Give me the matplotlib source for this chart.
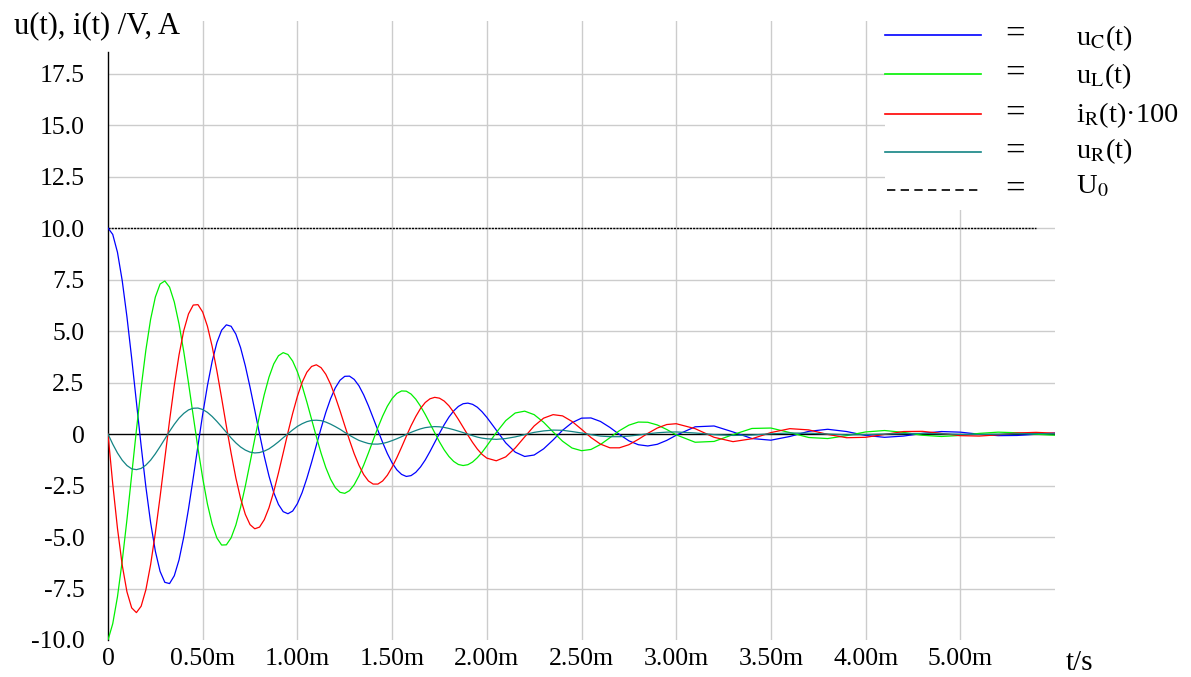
#!/usr/bin/env python3
"""Damped RLC oscillation: u_C, u_L, i_R*100, u_R over time."""
import matplotlib
matplotlib.use('Agg')
import matplotlib.pyplot as plt
from matplotlib.patches import Rectangle
from matplotlib.lines import Line2D

plt.rcParams['font.family'] = ['Liberation Serif', 'DejaVu Serif']
plt.rcParams['mathtext.fontset'] = 'stix'

# time in ms (denser sampling where the swing is large)
t_ms = [0.000, 0.025, 0.050, 0.075, 0.100, 0.125, 0.150, 0.175, 0.200,
        0.225, 0.250, 0.275, 0.300, 0.325, 0.350, 0.375, 0.400, 0.425,
        0.450, 0.475, 0.500, 0.525, 0.550, 0.575, 0.600, 0.625, 0.650,
        0.675, 0.700, 0.725, 0.750, 0.775, 0.800, 0.825, 0.850, 0.875,
        0.900, 0.925, 0.950, 0.975, 1.000, 1.025, 1.050, 1.075, 1.100,
        1.125, 1.150, 1.175, 1.200, 1.225, 1.250, 1.275, 1.300, 1.325,
        1.350, 1.375, 1.400, 1.425, 1.450, 1.475, 1.500, 1.525, 1.550,
        1.575, 1.600, 1.625, 1.650, 1.675, 1.700, 1.725, 1.750, 1.775,
        1.800, 1.825, 1.850, 1.875, 1.900, 1.925, 1.950, 1.975, 2.000,
        2.05, 2.10, 2.15, 2.20, 2.25, 2.30, 2.35, 2.40, 2.45, 2.50,
        2.55, 2.60, 2.65, 2.70, 2.75, 2.80, 2.85, 2.90, 2.95, 3.00,
        3.1, 3.2, 3.3, 3.4, 3.5, 3.6, 3.7, 3.8, 3.9, 4.0,
        4.1, 4.2, 4.3, 4.4, 4.5, 4.6, 4.7, 4.8, 4.9, 5.0]

u_C = [10.00, 9.69, 8.82, 7.45, 5.69, 3.68, 1.55, -0.58, -2.57,
       -4.30, -5.69, -6.67, -7.20, -7.26, -6.88, -6.11, -5.00, -3.64,
       -2.13, -0.57, 0.96, 2.35, 3.53, 4.44, 5.04, 5.30, 5.23,
       4.85, 4.19, 3.31, 2.27, 1.15, 0.01, -1.08, -2.04, -2.84,
       -3.42, -3.77, -3.87, -3.74, -3.38, -2.84, -2.15, -1.37, -0.54,
       0.28, 1.05, 1.71, 2.24, 2.61, 2.80, 2.81, 2.65, 2.34,
       1.90, 1.37, 0.78, 0.18, -0.41, -0.95, -1.40, -1.74, -1.96,
       -2.06, -2.02, -1.86, -1.60, -1.26, -0.85, -0.41, 0.03, 0.45,
       0.82, 1.12, 1.34, 1.47, 1.50, 1.44, 1.30, 1.08, 0.81,
       0.19, -0.43, -0.88, -1.09, -1.02, -0.72, -0.29, 0.18, 0.55, 0.77,
       0.78, 0.61, 0.32, -0.02, -0.33, -0.52, -0.58, -0.50, -0.31, -0.06,
       0.35, 0.39, 0.10, -0.22, -0.30, -0.12, 0.13, 0.23, 0.12, -0.07,
       -0.16, -0.10, 0.03, 0.12, 0.09, -0.01, -0.08, -0.07, -0.01, 0.05]

u_L = [-10.00, -9.21, -7.90, -6.17, -4.16, -1.99, 0.19, 2.25, 4.08,
       5.57, 6.65, 7.28, 7.43, 7.13, 6.41, 5.34, 4.00, 2.48,
       0.88, -0.69, -2.14, -3.40, -4.38, -5.05, -5.39, -5.38, -5.04,
       -4.42, -3.56, -2.53, -1.39, -0.23, 0.90, 1.91, 2.76, 3.40,
       3.80, 3.95, 3.86, 3.54, 3.02, 2.34, 1.55, 0.71, -0.13,
       -0.93, -1.63, -2.19, -2.60, -2.83, -2.88, -2.75, -2.46, -2.03,
       -1.51, -0.92, -0.30, 0.31, 0.87, 1.35, 1.72, 1.97, 2.09,
       2.08, 1.94, 1.69, 1.35, 0.95, 0.51, 0.06, -0.38, -0.77,
       -1.09, -1.33, -1.48, -1.53, -1.49, -1.36, -1.15, -0.89, -0.58,
       0.07, 0.65, 1.02, 1.11, 0.94, 0.57, 0.10, -0.35, -0.68, -0.81,
       -0.75, -0.51, -0.18, 0.16, 0.43, 0.58, 0.57, 0.44, 0.22, -0.04,
       -0.40, -0.36, -0.03, 0.27, 0.29, 0.07, -0.17, -0.22, -0.08, 0.10,
       0.17, 0.08, -0.06, -0.12, -0.07, 0.03, 0.09, 0.06, -0.01, -0.06]

i_R_x100 = [0.00, -2.42, -4.58, -6.36, -7.66, -8.44, -8.67, -8.36, -7.56,
            -6.34, -4.80, -3.05, -1.19, 0.65, 2.36, 3.84, 5.02, 5.83,
            6.26, 6.28, 5.92, 5.23, 4.25, 3.06, 1.74, 0.38, -0.93,
            -2.13, -3.13, -3.90, -4.40, -4.60, -4.52, -4.16, -3.58, -2.80,
            -1.89, -0.92, 0.07, 1.00, 1.83, 2.51, 3.00, 3.28, 3.36,
            3.22, 2.90, 2.42, 1.81, 1.13, 0.41, -0.30, -0.96, -1.52,
            -1.97, -2.28, -2.43, -2.43, -2.28, -2.00, -1.61, -1.15, -0.64,
            -0.11, 0.40, 0.85, 1.24, 1.53, 1.71, 1.78, 1.74, 1.60,
            1.37, 1.06, 0.71, 0.33, -0.05, -0.41, -0.73, -0.99, -1.17,
            -1.30, -1.11, -0.68, -0.14, 0.39, 0.77, 0.94, 0.88, 0.61, 0.23,
            -0.17, -0.49, -0.67, -0.67, -0.52, -0.26, 0.03, 0.29, 0.46, 0.50,
            0.26, -0.16, -0.37, -0.23, 0.07, 0.26, 0.20, -0.02, -0.18, -0.16,
            -0.02, 0.12, 0.13, 0.03, -0.08, -0.10, -0.04, 0.05, 0.08, 0.04]

u_R = [0.00, -0.49, -0.92, -1.27, -1.53, -1.69, -1.73, -1.67, -1.51,
       -1.27, -0.96, -0.61, -0.24, 0.13, 0.47, 0.77, 1.00, 1.17,
       1.25, 1.26, 1.19, 1.05, 0.85, 0.61, 0.35, 0.08, -0.19,
       -0.43, -0.63, -0.78, -0.88, -0.92, -0.90, -0.83, -0.72, -0.56,
       -0.38, -0.18, 0.01, 0.20, 0.37, 0.50, 0.60, 0.66, 0.67,
       0.65, 0.58, 0.48, 0.36, 0.23, 0.08, -0.06, -0.19, -0.31,
       -0.39, -0.46, -0.49, -0.49, -0.46, -0.40, -0.32, -0.23, -0.13,
       -0.02, 0.08, 0.17, 0.25, 0.31, 0.34, 0.36, 0.35, 0.32,
       0.27, 0.21, 0.14, 0.07, -0.01, -0.08, -0.15, -0.20, -0.23,
       -0.26, -0.22, -0.14, -0.03, 0.08, 0.15, 0.19, 0.18, 0.12, 0.05,
       -0.03, -0.10, -0.13, -0.13, -0.10, -0.05, 0.01, 0.06, 0.09, 0.10,
       0.05, -0.03, -0.07, -0.05, 0.01, 0.05, 0.04, 0.00, -0.04, -0.03,
       0.00, 0.02, 0.03, 0.01, -0.02, -0.02, -0.01, 0.01, 0.02, 0.01]

U0 = 10.0

x_ticks = [0, 0.5, 1.0, 1.5, 2.0, 2.5, 3.0, 3.5, 4.0, 4.5]
x_labels = ["0", "0.50m", "1.00m", "1.50m", "2.00m", "2.50m", "3.00m",
            "3.50m", "4.00m", "5.00m"]
y_ticks = [-10, -7.5, -5, -2.5, 0, 2.5, 5, 7.5, 10, 12.5, 15, 17.5]
y_labels = ["-10.0", "-7.5", "-5.0", "-2.5", "0", "2.5", "5.0", "7.5",
            "10.0", "12.5", "15.0", "17.5"]

COLORS = {"uC": "#0000ff", "uL": "#00f000", "iR": "#ff0000",
          "uR": "#138484", "U0": "#000000"}
FS = 18.5

W, H = 1191, 677
fig = plt.figure(figsize=(W / 100, H / 100), dpi=100)
# axes from x=108..1055 px, y=21..640 px
ax = fig.add_axes([108 / W, 1 - 640 / H, (1055 - 108) / W, (640 - 21) / H])
ax.set_xlim(0, 5.0)
ax.set_ylim(-10, 20.05)

for s in ["top", "right", "bottom"]:
    ax.spines[s].set_visible(False)
ax.spines["left"].set_bounds(-10, 18.55)
ax.spines["left"].set_linewidth(1.0)

# grid
for xv in x_ticks[1:]:
    ax.axvline(xv, color="#cccccc", lw=1.0, zorder=0)
for yv in y_ticks[1:]:
    if yv != 0:
        ax.axhline(yv, color="#cccccc", lw=1.0, zorder=0)
ax.axhline(0, color="black", lw=1.0, zorder=1)

ax.plot([0, 4.9], [U0, U0], color=COLORS["U0"], lw=1.0,
        linestyle=(0, (1.5, 0.8)), zorder=2)
ax.plot(t_ms, u_C, color=COLORS["uC"], lw=0.9, zorder=3)
ax.plot(t_ms, u_L, color=COLORS["uL"], lw=0.9, zorder=3)
ax.plot(t_ms, i_R_x100, color=COLORS["iR"], lw=0.9, zorder=3)
ax.plot(t_ms, u_R, color=COLORS["uR"], lw=0.9, zorder=3)

ax.set_xticks(x_ticks)
ax.set_xticklabels(x_labels, fontsize=FS)
ax.set_yticks(y_ticks)
ax.set_yticklabels(y_labels, fontsize=FS)
ax.tick_params(axis="both", length=0)
ax.tick_params(axis="x", pad=6)
ax.tick_params(axis="y", pad=17)

fig.text(1066 / W, 1 - 670 / H, "t/s", fontsize=21, ha="left", va="baseline")
fig.text(14 / W, 1 - 33 / H, "u(t), i(t) /V, A", fontsize=22,
         ha="left", va="baseline")

# legend block (white box over grid)
fig.patches.append(Rectangle((885 / W, 1 - 210 / H), (W - 885) / W, 210 / H,
                             transform=fig.transFigure, facecolor="white",
                             edgecolor="none", zorder=5))
legend_rows = [
    ("uC", r"u$_{\rm C}$(t)", "-"),
    ("uL", r"u$_{\rm L}$(t)", "-"),
    ("iR", r"i$_{\rm R}$(t)·100", "-"),
    ("uR", r"u$_{\rm R}$(t)", "-"),
    ("U0", r"U$_0$", "--"),
]
line_y = [35, 74, 114, 152, 190]
text_base = [45, 83, 122, 158, 193]
for (key, label, ls), yp, yb in zip(legend_rows, line_y, text_base):
    yf = 1 - yp / H
    if ls == "--":
        fig.lines.append(Line2D([887 / W, 981 / W], [yf, yf], transform=fig.transFigure,
                                color=COLORS[key], lw=1.2, linestyle=(0, (5, 3.2)),
                                zorder=6))
    else:
        fig.lines.append(Line2D([885 / W, 981 / W], [yf, yf], transform=fig.transFigure,
                                color=COLORS[key], lw=1.2, zorder=6))
    fig.text(1015 / W, yf, "=", fontsize=25, ha="center", va="center", zorder=6)
    fig.text(1076 / W, 1 - yb / H, label, fontsize=20.5, ha="left", va="baseline",
             zorder=6)

fig.savefig("out.png", dpi=100)
